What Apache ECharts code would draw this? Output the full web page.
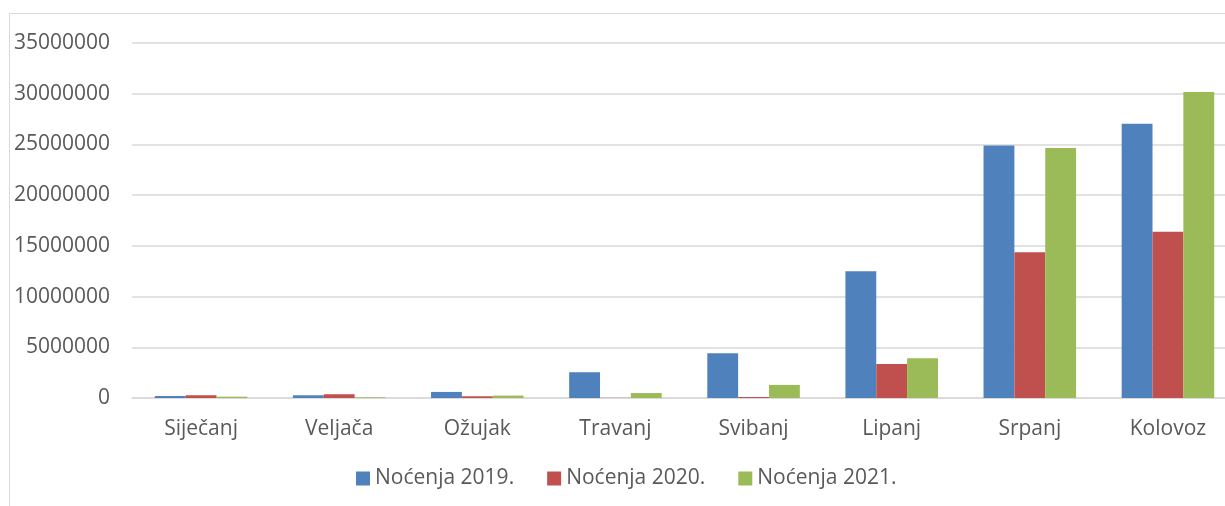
<!DOCTYPE html>
<html>
<head>
<meta charset="utf-8">
<style>
  html, body { margin: 0; padding: 0; background: #fff; }
  #chart { width: 1225px; height: 506px; }
</style>
<script src="https://cdn.jsdelivr.net/npm/echarts@6/dist/echarts.min.js"></script>
</head>
<body>
<div id="chart"></div>
<script>
// Monthly overnight stays (noćenja), 2019–2021
const months = ['Siječanj', 'Veljača', 'Ožujak', 'Travanj', 'Svibanj', 'Lipanj', 'Srpanj', 'Kolovoz'];
const nocenja2019 = [200000, 270000, 600000, 2540000, 4420000, 12490000, 24890000, 27030000];
const nocenja2020 = [270000, 370000, 170000, 20000, 100000, 3360000, 14370000, 16380000];
const nocenja2021 = [130000, 70000, 240000, 490000, 1290000, 3920000, 24660000, 30170000];
const seriesNames = ['Noćenja 2019.', 'Noćenja 2020.', 'Noćenja 2021.'];
const colors = ['#4F81BD', '#C0504D', '#9BBB59'];

const textColor = '#595959';
const fontFamily = '"Open Sans", "Noto Sans", sans-serif';

const chart = echarts.init(document.getElementById('chart'));
chart.setOption({
  animation: false,
  color: colors,
  textStyle: { fontFamily: fontFamily, color: textColor },
  graphic: [{
    type: 'rect',
    shape: { x: 9.5, y: 13.5, width: 1400, height: 700 },
    style: { fill: 'none', stroke: '#D9D9D9', lineWidth: 1 },
    silent: true,
    z: -1
  }],
  grid: { left: 132, top: 43, width: 1105, height: 355, containLabel: false, outerBoundsMode: 'none' },
  legend: {
    top: 463,
    left: 351,
    itemWidth: 14,
    itemHeight: 14,
    itemGap: 33,
    icon: 'rect',
    textStyle: { fontSize: 21, color: textColor, fontFamily: fontFamily },
    data: seriesNames
  },
  xAxis: {
    type: 'category',
    data: months,
    axisLine: { show: true, lineStyle: { color: '#D9D9D9', width: 1.5 } },
    axisTick: { show: false },
    axisLabel: { fontSize: 21, color: textColor, margin: 21, fontFamily: fontFamily }
  },
  yAxis: {
    type: 'value',
    min: 0,
    max: 35000000,
    interval: 5000000,
    axisLine: { show: false },
    axisTick: { show: false },
    splitLine: { lineStyle: { color: '#D9D9D9', width: 1.5 } },
    axisLabel: {
      fontSize: 21, color: textColor, margin: 22, fontFamily: fontFamily,
      formatter: function (v) { return String(v); }
    }
  },
  series: [
    { name: seriesNames[0], type: 'bar', data: nocenja2019, barGap: '0%', barCategoryGap: '33%' },
    { name: seriesNames[1], type: 'bar', data: nocenja2020, barGap: '0%', barCategoryGap: '33%' },
    { name: seriesNames[2], type: 'bar', data: nocenja2021, barGap: '0%', barCategoryGap: '33%' }
  ]
});
</script>
</body>
</html>
